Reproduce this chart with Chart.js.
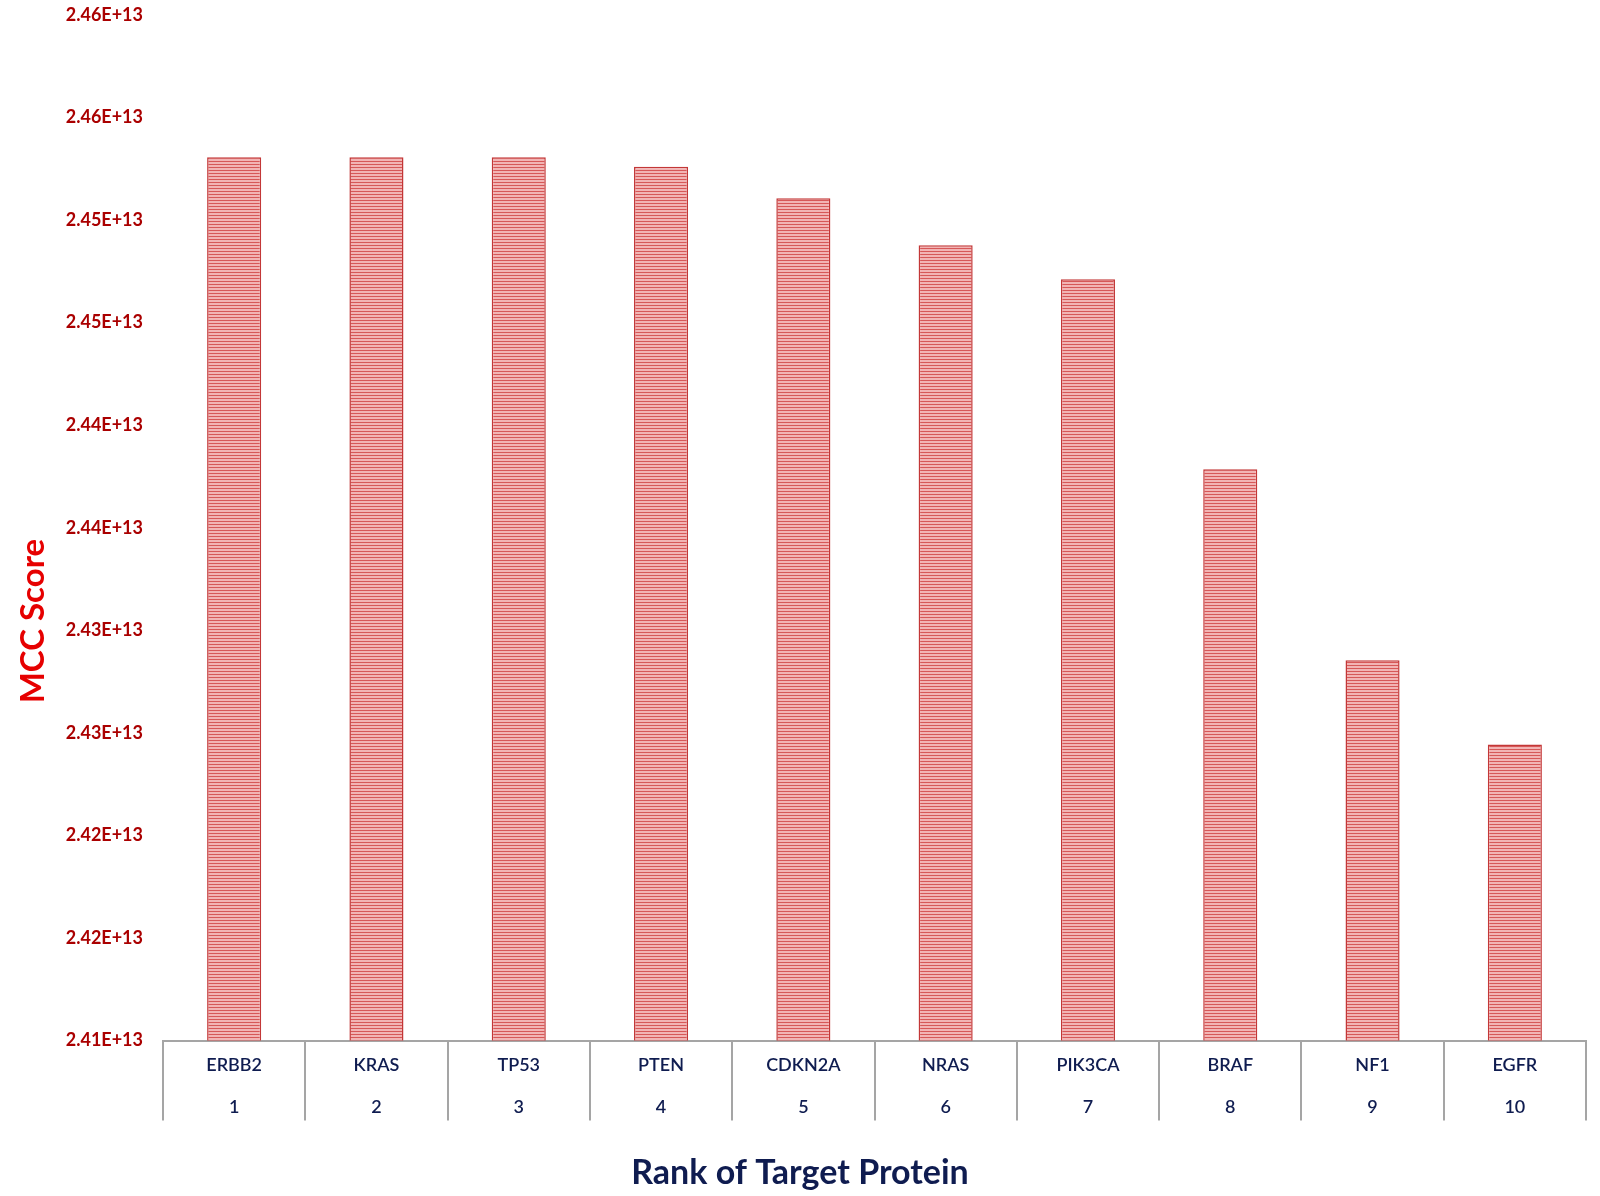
<!DOCTYPE html>
<html>
<head>
<meta charset="utf-8">
<script src="https://cdn.jsdelivr.net/npm/chart.js@4.4.1/dist/chart.umd.min.js"></script>
<style>
  html, body { margin: 0; padding: 0; background: #fff; }
  #wrap { width: 1600px; height: 1196px; }
</style>
</head>
<body>
<div id="wrap"><canvas id="mccChart" width="1600" height="1196"></canvas></div>
<script>
// values
var proteins = ['ERBB2', 'KRAS', 'TP53', 'PTEN', 'CDKN2A', 'NRAS', 'PIK3CA', 'BRAF', 'NF1', 'EGFR'];
var ranks = ['1', '2', '3', '4', '5', '6', '7', '8', '9', '10'];
var mccScores = [2.45307e13, 2.45307e13, 2.45307e13, 2.45260e13, 2.45107e13, 2.44878e13, 2.44712e13, 2.43785e13, 2.42854e13, 2.42444e13];
var yTickLabels = ['2.41E+13', '2.42E+13', '2.42E+13', '2.43E+13', '2.43E+13', '2.44E+13', '2.44E+13', '2.45E+13', '2.45E+13', '2.46E+13', '2.46E+13'];

document.addEventListener('DOMContentLoaded', function() {
    var ctx = document.getElementById('mccChart').getContext('2d');

    // horizontal stripe fill like the original bars
    var pc = document.createElement('canvas');
    pc.width = 4;
    pc.height = 3;
    var p = pc.getContext('2d');
    p.fillStyle = 'rgb(242,180,180)';
    p.fillRect(0, 0, 4, 3);
    p.fillStyle = 'rgb(214,88,88)';
    p.fillRect(0, 2, 4, 1);
    var stripes = ctx.createPattern(pc, 'repeat');

    // y title sits a bit below the middle of the plot in the original
    var yTitle = {
        id: 'yTitle',
        afterDraw: function(chart) {
            var c = chart.ctx;
            var area = chart.chartArea;
            c.save();
            c.translate(33, area.top + (area.bottom - area.top) * 0.591);
            c.rotate(-Math.PI / 2);
            c.font = 'bold 33px Lato';
            c.fillStyle = 'rgb(230,0,0)';
            c.textAlign = 'center';
            c.textBaseline = 'middle';
            c.fillText('MCC Score', 0, 0);
            c.restore();
        }
    };

    var labels = proteins.map(function(name, i) { return [name, ranks[i]]; });

    new Chart(ctx, {
        type: 'bar',
        data: {
            labels: labels,
            datasets: [{
                label: 'MCC Score',
                data: mccScores,
                backgroundColor: stripes,
                borderColor: 'rgb(195,55,55)',
                borderWidth: 1.5,
                categoryPercentage: 1.0,
                barPercentage: 0.38
            }]
        },
        options: {
            responsive: false,
            animation: false,
            layout: {
                padding: { top: 15, right: 14, left: 14, bottom: 0 }
            },
            plugins: {
                legend: { display: false },
                tooltip: { enabled: false },
                title: {
                    display: true,
                    position: 'bottom',
                    text: 'Rank of Target Protein',
                    color: 'rgb(15,28,80)',
                    font: { family: 'Lato', size: 34, weight: 'bold', lineHeight: 1.1 },
                    padding: { top: 0, bottom: 4 }
                }
            },
            scales: {
                x: {
                    afterFit: function(scale) { scale.height = 114; },
                    border: { display: true, color: 'rgb(165,165,165)', width: 2 },
                    grid: {
                        display: true,
                        drawOnChartArea: false,
                        drawTicks: true,
                        tickLength: 80,
                        color: 'rgb(165,165,165)',
                        lineWidth: 2
                    },
                    ticks: {
                        autoSkip: false,
                        maxRotation: 0,
                        padding: -76,
                        color: 'rgb(15,28,80)',
                        font: { family: 'Lato', size: 18, weight: '600', lineHeight: 2.33 }
                    }
                },
                y: {
                    min: 2.41e13,
                    max: 2.46e13,
                    afterFit: function(scale) {
                        scale.width = 149;
                        scale.paddingTop = 0;
                        scale.paddingBottom = 0;
                    },
                    border: { display: false },
                    grid: { display: false, drawTicks: false },
                    ticks: {
                        stepSize: 0.005e13,
                        padding: 20,
                        color: 'rgb(170,0,0)',
                        font: { family: 'Lato', size: 18, weight: 'bold' },
                        callback: function(value, index) {
                            return yTickLabels[index];
                        }
                    }
                }
            }
        },
        plugins: [yTitle]
    });
});
</script>
</body>
</html>
